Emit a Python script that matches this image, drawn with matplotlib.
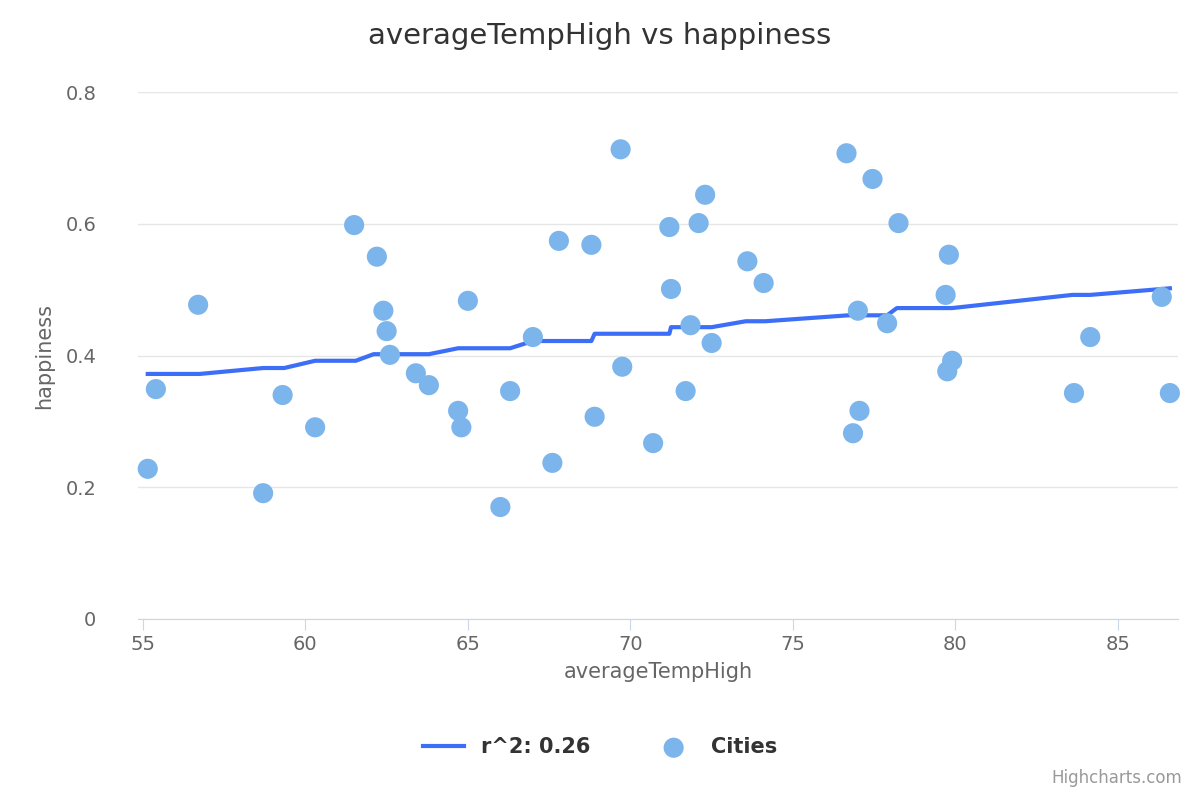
import matplotlib.pyplot as plt

city_temp = [55.15, 55.4, 56.7, 58.7, 59.3, 60.3, 61.5, 62.2, 62.4, 62.5, 62.6, 63.4, 63.8, 64.7, 64.8, 65.0,
             66.0, 66.3, 67.0, 67.6, 67.8, 68.8, 68.9, 69.7, 69.75, 70.7, 71.2, 71.25, 71.7, 71.85, 72.1, 72.3,
             72.5, 73.6, 74.1, 76.65, 76.85, 77.0, 77.05, 77.45, 77.9, 78.25, 79.7, 79.8, 79.75, 79.9, 83.65,
             84.15, 86.35, 86.6]
city_happy = [0.228, 0.349, 0.477, 0.191, 0.340, 0.291, 0.598, 0.550, 0.468, 0.437, 0.401, 0.373, 0.355,
              0.316, 0.291, 0.483, 0.170, 0.346, 0.428, 0.237, 0.574, 0.568, 0.307, 0.713, 0.383, 0.267,
              0.595, 0.501, 0.346, 0.446, 0.601, 0.644, 0.419, 0.543, 0.510, 0.707, 0.282, 0.468, 0.316,
              0.668, 0.449, 0.601, 0.492, 0.553, 0.376, 0.392, 0.343, 0.428, 0.489, 0.343]

fit_x = [55.15, 56.75, 58.7, 59.35, 60.3, 61.55, 62.1, 63.8, 64.7, 66.3, 67.0, 68.8, 68.9, 71.2, 71.25,
         72.5, 73.55, 74.15, 76.7, 77.9, 78.2, 79.9, 83.6, 84.15, 86.6]
fit_y = [0.372, 0.372, 0.381, 0.381, 0.392, 0.392, 0.402, 0.402, 0.411, 0.411, 0.422, 0.422, 0.433, 0.433,
         0.443, 0.443, 0.452, 0.452, 0.461, 0.461, 0.472, 0.472, 0.492, 0.492, 0.502]

plt.rcParams['font.family'] = ['DejaVu Sans']
fig = plt.figure(figsize=(12, 8), dpi=100)
ax = fig.add_axes([138/1200, 1 - 619/800, 1040/1200, 527/800])

ax.plot(fit_x, fit_y, color='#3d6ef7', lw=3, label='r^2: 0.26', zorder=2)
ax.scatter(city_temp, city_happy, s=210, color='#7cb5ec', edgecolors='none', label='Cities', zorder=3,
           clip_on=False)

ax.set_xlim(54.85, 86.85)
ax.set_ylim(0, 0.8)
ax.set_xticks([55, 60, 65, 70, 75, 80, 85])
ax.set_yticks([0, 0.2, 0.4, 0.6, 0.8])
ax.set_yticklabels(['0', '0.2', '0.4', '0.6', '0.8'])
ax.grid(axis='y', color='#e6e6e6', lw=1)
ax.set_axisbelow(True)
for s in ['top', 'right', 'left']:
    ax.spines[s].set_visible(False)
ax.spines['bottom'].set_color('#ccd6eb')
ax.tick_params(axis='y', length=0, labelsize=14, labelcolor='#666666', pad=30)
ax.tick_params(axis='x', length=8, color='#ccd6eb', labelsize=14, labelcolor='#666666')
ax.set_xlabel('averageTempHigh', fontsize=15, color='#666666', labelpad=6)
ax.set_ylabel('happiness', fontsize=15, color='#666666', labelpad=8)

fig.text(0.5, 0.955, 'averageTempHigh vs happiness', ha='center', va='center', fontsize=21, color='#333333')
fig.legend(loc='center', bbox_to_anchor=(0.5, 0.066), ncol=2, frameon=False,
           prop={'size': 15, 'weight': 'bold'}, labelcolor='#333333', handlelength=2, columnspacing=3)
fig.text(0.985, 0.016, 'Highcharts.com', ha='right', va='bottom', fontsize=12, color='#999999')

fig.savefig('out.png')
